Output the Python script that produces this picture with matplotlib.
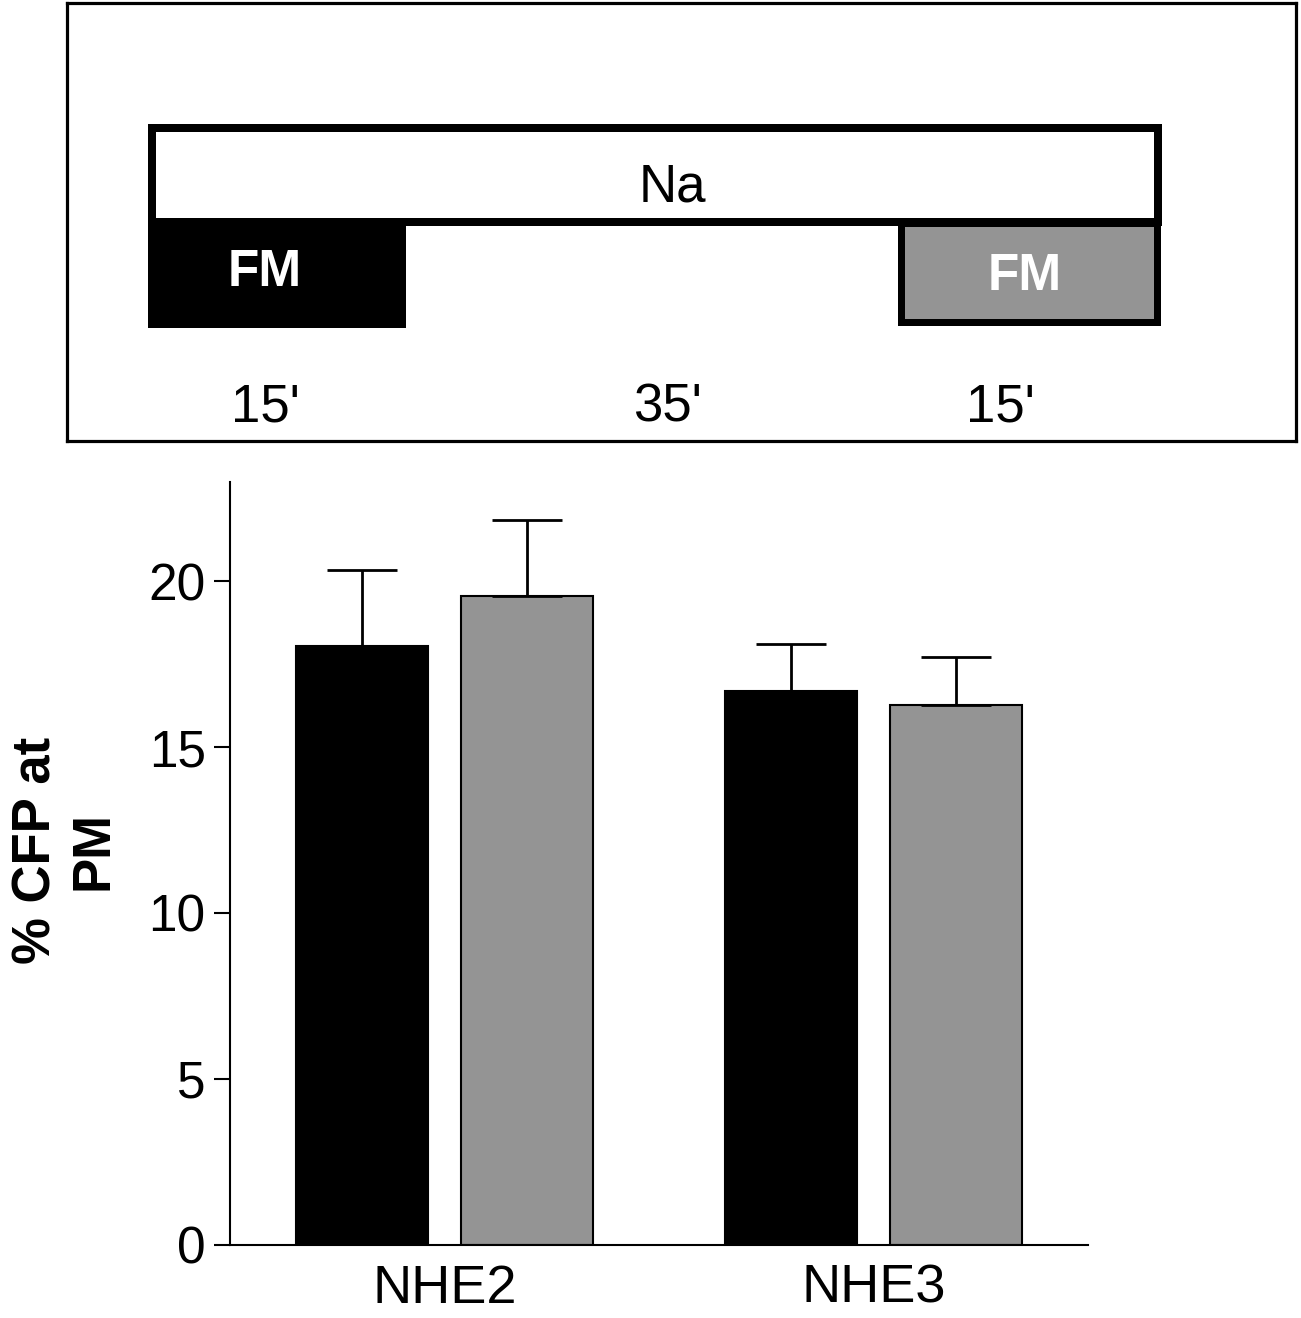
import matplotlib
matplotlib.use("Agg")
import matplotlib.pyplot as plt
from matplotlib.patches import Rectangle
import numpy as np

plt.rcParams['font.family'] = ['Liberation Sans', 'DejaVu Sans']

# ---- data ----
categories = ["NHE2", "NHE3"]
first_fm = [18.04, 16.71]      # black bars
second_fm = [19.56, 16.28]     # gray bars
first_err = [2.30, 1.39]
second_err = [2.28, 1.45]
yticks = [0, 5, 10, 15, 20]
time_labels = ["15'", "35'", "15'"]

W, H = 1301, 1318
fig = plt.figure(figsize=(W / 100, H / 100), dpi=100)
GRAY = '#949494'

# ---- top schematic panel (pixel coordinates of the panel) ----
axt = fig.add_axes([67 / W, 1 - 441 / H, (1296 - 67) / W, (441 - 3) / H])
axt.set_xlim(67, 1296)
axt.set_ylim(441, 3)
axt.set_xticks([])
axt.set_yticks([])
for s in axt.spines.values():
    s.set_linewidth(2.3)
    s.set_color('black')

px = 0.72  # points per pixel
axt.add_patch(Rectangle((152, 128), 1006, 94, facecolor='white', edgecolor='black', linewidth=8 * px))
axt.add_patch(Rectangle((148, 218), 258, 110, facecolor='black', edgecolor='none'))
axt.add_patch(Rectangle((901, 223), 256, 99, facecolor=GRAY, edgecolor='black', linewidth=7 * px))
axt.text(672, 188, "Na", fontsize=38, ha='center', va='center')
axt.text(265, 272, "FM", fontsize=37, fontweight='bold', color='white', ha='center', va='center')
axt.text(1025, 276, "FM", fontsize=37, fontweight='bold', color='white', ha='center', va='center')
for xpos, lab in zip([265, 667, 1000], time_labels):
    axt.text(xpos, 408, lab, fontsize=38, ha='center', va='center')

# ---- bar chart ----
ax = fig.add_axes([230 / W, 1 - 1244.5 / H, (1088 - 230) / W, (1244.5 - 482) / H])
x = np.arange(len(categories))
bw = 0.307
off = 0.192
ekw = dict(elinewidth=2.0, capthick=2.0, ecolor='black')
ax.bar(x - off, first_fm, bw, color='black', edgecolor='black', linewidth=1.5,
       yerr=[np.zeros(len(x)), first_err], capsize=25, error_kw=ekw, zorder=2)
ax.bar(x + off, second_fm, bw, color=GRAY, edgecolor='black', linewidth=1.5,
       yerr=[np.zeros(len(x)), second_err], capsize=25, error_kw=ekw, zorder=2)

ax.set_xlim(-0.5, 1.5)
ax.set_ylim(0, 23)
ax.set_yticks(yticks)
ax.set_yticklabels([str(t) for t in yticks])
ax.set_xticks(x)
ax.set_xticklabels(categories)
for s in ['top', 'right']:
    ax.spines[s].set_visible(False)
for s in ['left', 'bottom']:
    ax.spines[s].set_linewidth(1.5)
ax.tick_params(axis='y', direction='out', length=11.5, width=1.5, labelsize=37, pad=6)
ax.tick_params(axis='x', length=0, labelsize=39, pad=14)

fig.text(65 / W, 1 - 850 / H, "% CFP at\nPM", rotation=90, fontsize=38, fontweight='bold',
         ha='center', va='center', multialignment='center')

fig.savefig("out.png", dpi=100)
